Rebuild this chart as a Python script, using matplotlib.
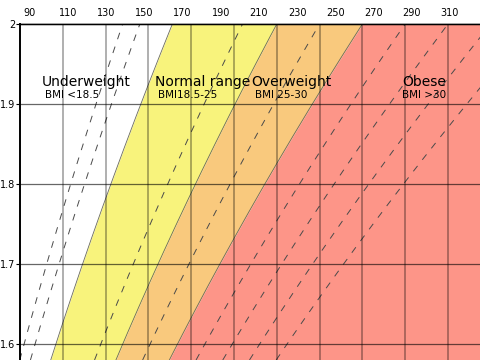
import numpy as np
import matplotlib
matplotlib.use('Agg')
import matplotlib.pyplot as plt
from matplotlib.ticker import FormatStrFormatter

# ---- data ----
bmi_bounds = [18.9, 25, 30]
zone_names = ['Underweight', 'Normal range', 'Overweight', 'Obese']
zone_ranges = ['BMI <18.5', 'BMI18.5-25', 'BMI 25-30', 'BMI >30']
zone_colors = ['#ffffff', '#f8f37c', '#f9c97d', '#fd9588']
dashed_bmi = [16, 17, 23, 27.5, 32.5, 35, 37.5, 40]
height_ticks = [1.6, 1.7, 1.8, 1.9, 2.0]
weight_grid_kg = [50, 60, 70, 80, 90, 100, 110, 120, 130, 140]
lb_ticks = [90, 110, 130, 150, 170, 190, 210, 230, 250, 270, 290, 310]

# label anchor positions (kg, m)
name_pos = [(45.1, 1.9231), (71.5, 1.9231), (94.0, 1.9231), (129.2, 1.9231)]
range_pos = [(45.8, 1.9069), (72.2, 1.9069), (94.9, 1.9069), (129.2, 1.9069)]

plt.rcParams['font.family'] = ['DejaVu Sans']

fig = plt.figure(figsize=(4.8, 3.6), dpi=100)
ax = fig.add_axes([20 / 480, 0, 460 / 480, 336 / 360])
xmin, xmax = 40.0, 40.0 + 460 / 4.28
ymin, ymax = 1.58, 2.0

h = np.linspace(ymin, ymax, 300)
edges = [0.0] + bmi_bounds + [1000.0]
for lo, hi, c in zip(edges[:-1], edges[1:], zone_colors):
    x1 = np.clip(lo * h ** 2, 0, xmax + 5)
    x2 = np.clip(hi * h ** 2, 0, xmax + 5)
    ax.fill_betweenx(h, x1, x2, color=c, lw=0, zorder=0.5)

for b in bmi_bounds:
    ax.plot(b * h ** 2, h, color='#6a6a5a', lw=0.6, zorder=1.2)

for b in dashed_bmi:
    ax.plot(b * h ** 2, h, color='#4a4a4a', lw=0.7, ls=(0, (7, 8)), zorder=1.3)

ax.set_xlim(xmin, xmax)
ax.set_ylim(ymin, ymax)
ax.set_xticks(weight_grid_kg)
ax.set_yticks(height_ticks)
ax.yaxis.set_major_formatter(FormatStrFormatter('%g'))
ax.grid(True, axis='x', color='black', alpha=0.4, lw=1.1)
ax.grid(True, axis='y', color='black', alpha=0.6, lw=0.9)
ax.tick_params(axis='x', bottom=False, labelbottom=False, top=False)
ax.tick_params(axis='y', direction='out', length=3, pad=0.5, labelsize=7, width=0.8)
for s in ['right', 'bottom']:
    ax.spines[s].set_visible(False)
ax.spines['left'].set_linewidth(1.4)
ax.spines['top'].set_linewidth(1.0)


def kg2lb(kg):
    return 110 + (np.asarray(kg) - 51.215) / 0.44626


def lb2kg(lb):
    return 51.215 + 0.44626 * (np.asarray(lb) - 110)


sec = ax.secondary_xaxis('top', functions=(kg2lb, lb2kg))
sec.set_xticks(lb_ticks)
sec.tick_params(direction='in', length=3.5, pad=4, labelsize=7, width=0.8)
sec.spines['top'].set_linewidth(1.0)

for (x, y), t in zip(name_pos, zone_names):
    ax.text(x, y, t, fontsize=10, ha='left', va='baseline', zorder=5)
for (x, y), t in zip(range_pos, zone_ranges):
    ax.text(x, y, t, fontsize=7.5, ha='left', va='baseline', zorder=5)

fig.savefig('out.png', dpi=100)
